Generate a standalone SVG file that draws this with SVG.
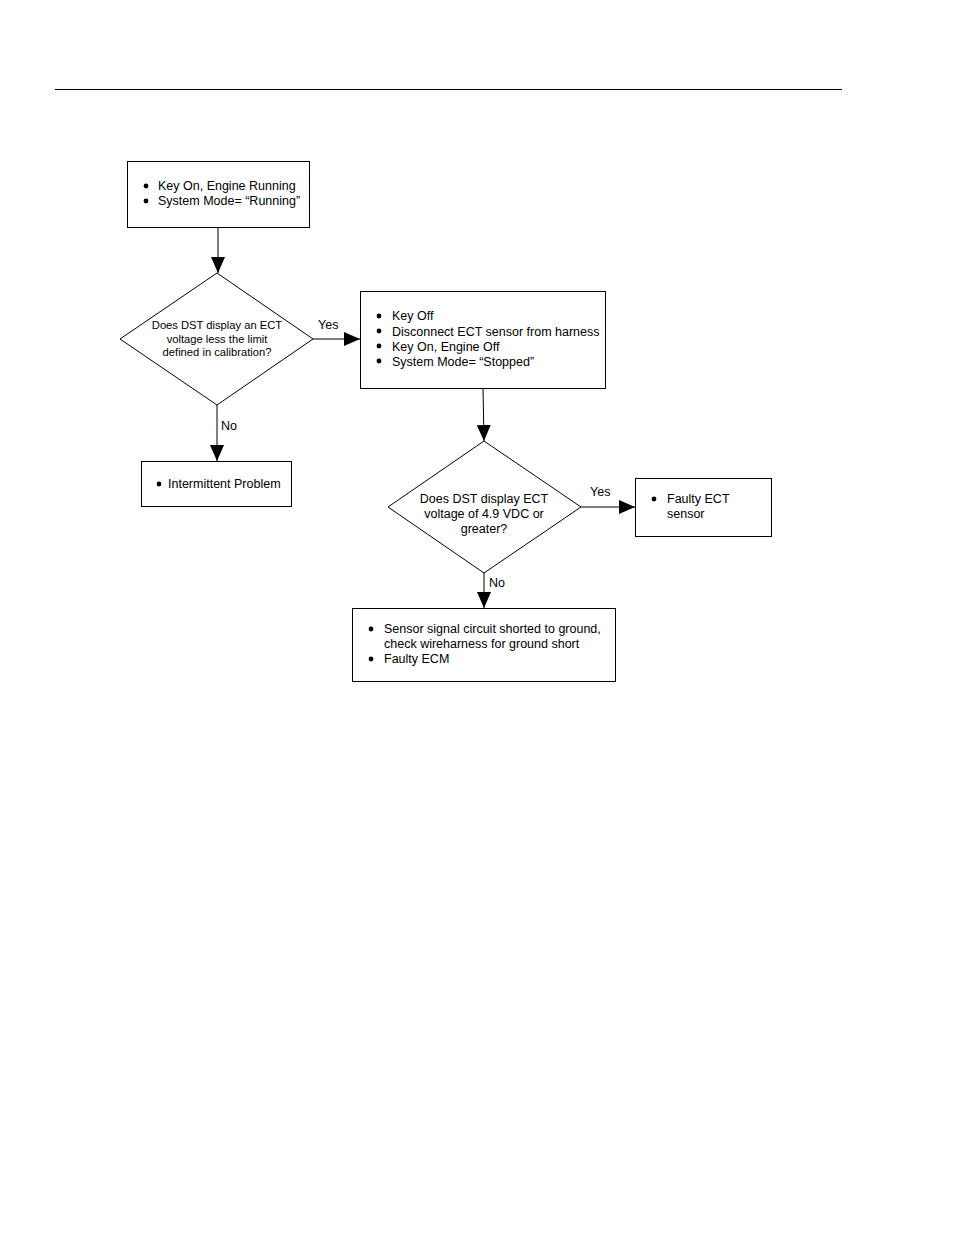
<svg xmlns="http://www.w3.org/2000/svg" width="954" height="1235" viewBox="0 0 954 1235">
<defs>
<marker id="arr" viewBox="0 0 16 14" refX="16" refY="7" markerWidth="16" markerHeight="14" markerUnits="userSpaceOnUse" orient="auto">
<path d="M0,0 L16,7 L0,14 Z" fill="#000"/>
</marker>
</defs>
<style>
.box{fill:#fff;stroke:#000;stroke-width:1}
.t{font-family:"Liberation Sans",Arial,sans-serif;font-size:12.5px;fill:#000}
.s{font-size:11.2px}
.c{stroke:#000;stroke-width:1;fill:none;marker-end:url(#arr)}
.b{fill:#000}
</style>
<rect width="954" height="1235" fill="#fff"/>
<line x1="55" y1="89.5" x2="842" y2="89.5" stroke="#000" stroke-width="1"/>
<g id="connectors">
<line class="c" x1="218" y1="227" x2="218" y2="273"/>
<line class="c" x1="313" y1="339" x2="360" y2="339"/>
<line class="c" x1="217" y1="405" x2="217" y2="461"/>
<line class="c" x1="483" y1="388" x2="484" y2="441"/>
<line class="c" x1="581" y1="507" x2="635" y2="507"/>
<line class="c" x1="484" y1="573" x2="484" y2="608"/>
<text class="t" x="318" y="329">Yes</text>
<text class="t" x="221" y="430">No</text>
<text class="t" x="590" y="496">Yes</text>
<text class="t" x="489" y="587">No</text>
</g>
<g id="start">
<rect class="box" x="127.5" y="161.5" width="182" height="66"/>
<circle class="b" cx="146" cy="186" r="2.4"/>
<circle class="b" cx="146" cy="201" r="2.4"/>
<text class="t" x="158" y="190">Key On, Engine Running</text>
<text class="t" x="158" y="205">System Mode= “Running”</text>
</g>
<g id="decision1">
<polygon class="box" points="217,273 313,339 217,405 120,339"/>
<text class="t s" x="217" y="329" text-anchor="middle">Does DST display an ECT</text>
<text class="t s" x="217" y="343" text-anchor="middle">voltage less the limit</text>
<text class="t s" x="217" y="356" text-anchor="middle">defined in calibration?</text>
</g>
<g id="step2">
<rect class="box" x="360.5" y="291.5" width="245" height="97"/>
<circle class="b" cx="379" cy="316" r="2.4"/>
<circle class="b" cx="379" cy="331" r="2.4"/>
<circle class="b" cx="379" cy="346" r="2.4"/>
<circle class="b" cx="379" cy="361" r="2.4"/>
<text class="t" x="392" y="320">Key Off</text>
<text class="t" x="392" y="336">Disconnect ECT sensor from harness</text>
<text class="t" x="392" y="351">Key On, Engine Off</text>
<text class="t" x="392" y="366">System Mode= “Stopped”</text>
</g>
<g id="intermittent">
<rect class="box" x="141.5" y="461.5" width="150" height="45"/>
<circle class="b" cx="159" cy="484" r="2.4"/>
<text class="t" x="168" y="488">Intermittent Problem</text>
</g>
<g id="decision2">
<polygon class="box" points="484,441 581,507 484,573 388,507"/>
<text class="t" x="484" y="503" text-anchor="middle">Does DST display ECT</text>
<text class="t" x="484" y="518" text-anchor="middle">voltage of 4.9 VDC or</text>
<text class="t" x="484" y="533" text-anchor="middle">greater?</text>
</g>
<g id="faulty-sensor">
<rect class="box" x="635.5" y="478.5" width="136" height="58"/>
<circle class="b" cx="654" cy="499" r="2.4"/>
<text class="t" x="667" y="503">Faulty ECT</text>
<text class="t" x="667" y="518">sensor</text>
</g>
<g id="short">
<rect class="box" x="352.5" y="608.5" width="263" height="73"/>
<circle class="b" cx="371" cy="629" r="2.4"/>
<circle class="b" cx="371" cy="659" r="2.4"/>
<text class="t" x="384" y="633">Sensor signal circuit shorted to ground,</text>
<text class="t" x="384" y="648">check wireharness for ground short</text>
<text class="t" x="384" y="663">Faulty ECM</text>
</g>
</svg>
